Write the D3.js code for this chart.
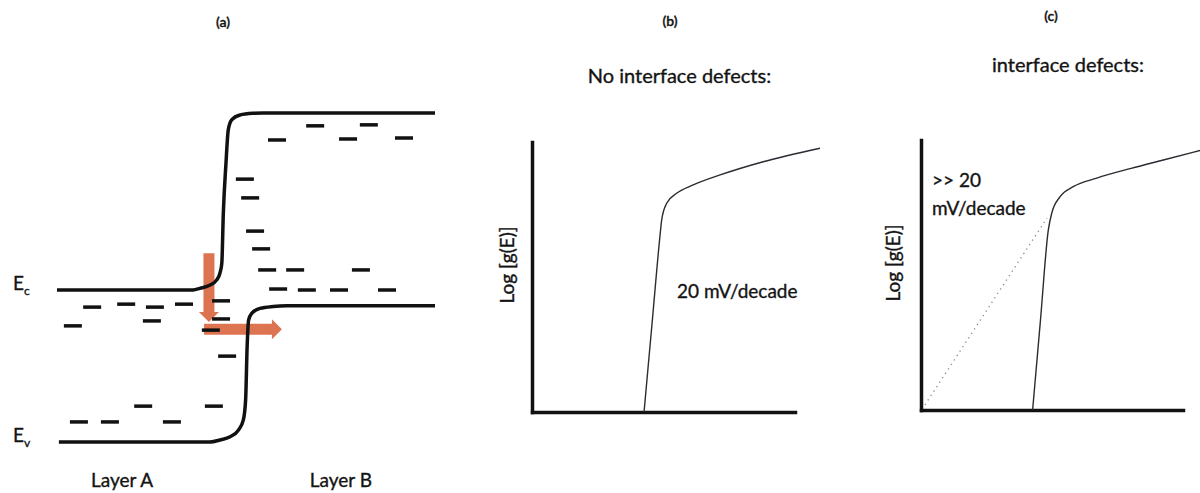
<!DOCTYPE html>
<html>
<head>
<meta charset="utf-8">
<script src="https://cdn.jsdelivr.net/npm/d3@7"></script>
<style>
  body { margin: 0; background: #fff; }
  svg { display: block; }
  text { font-family: Lato, "Open Sans", sans-serif; fill: #141414; stroke: #141414; stroke-width: 0.35px; }
</style>
</head>
<body>
<svg id="chart" width="1200" height="493"></svg>
<script>
// ---- Panel (a): band diagram of the A/B heterojunction ----
// [position (% of drawn width), energy (arb. units)]
const conductionBand = [[0,4.62],[36,4.62],[37.8,4.67],[40.5,4.77],[42.2,4.92],[43.1,5.13],[43.6,5.43],
  [44.0,6.95],[44.7,8.47],[45.3,9.48],[46.2,9.79],[48.4,9.94],[51.9,9.99],[54.6,10],[100,10]];
const valenceBand = [[0.5,0],[40.5,0],[43.1,0.06],[45.8,0.16],[48.0,0.36],[49.3,0.67],[49.9,1.28],
  [50.3,2.90],[50.7,3.71],[51.5,3.91],[53.7,4.06],[57.2,4.12],[60.8,4.14],[100,4.14]];
// localized (tail / defect) states
const defectStates = [
  [68.3,9.61],[82.5,9.64],[58.2,9.18],[77.0,9.21],[91.8,9.24],
  [49.7,7.99],[51.1,7.42],[52.4,6.41],[54.0,5.87],
  [55.6,5.23],[63.0,5.23],[80.4,5.23],
  [58.5,4.65],[66.1,4.62],[74.6,4.62],[87.3,4.62],
  [9.3,4.10],[18.3,4.19],[25.9,4.10],[33.6,4.19],[43.4,4.29],
  [4.2,3.53],[25.1,3.68],[43.4,3.74],[40.7,3.40],[45.0,2.61],
  [22.8,1.09],[41.5,1.09],[5.8,0.61],[14.0,0.61],[30.4,0.61]
];
// carrier path: drop into interface state, then hop across
const hopArrows = [
  { from: [40.2,5.74], to: [40.2,3.65] },
  { from: [38.9,3.43], to: [59.5,3.43] }
];
const bandLabels = [["E","c",4.62],["E","v",0]];
const layerLabels = [["Layer A",17.2],["Layer B",75.1]];

// ---- Panels (b) and (c): log density of states vs energy ----
const dosNoDefects = [[42.6,0],[45.65,32.8],[48.7,65.6],[49.3,71.1],[51.2,77.3],[55.0,81.0],
  [61.3,84.1],[71.5,87.8],[87.9,92.7],[109.5,97.7]];
const dosDefects = [[42.6,0],[45.6,33.3],[48.6,66.7],[49.9,72.9],[53.1,79.0],[58.1,82.7],
  [67.1,85.9],[80.2,89.5],[92.5,92.6],[106.5,96.1]];
const defectSlope = [[1.5,1.9],[48.1,71.1]];
const panelTags = ["(a)","(b)","(c)"];
const panelTitles = ["No interface defects:","interface defects:"];

const svg = d3.select("#chart");
svg.append("rect").attr("width",1200).attr("height",493).attr("fill","#fff");

// ---------- panel (a) ----------
const xA = d3.scaleLinear().domain([0,100]).range([57,435]);
const eA = d3.scaleLinear().domain([0,10]).range([442,113]);
const gA = svg.append("g");

// arrows (drawn under the bands)
const shaftHalf = 5.5, headHalf = 10, headLen = 10;
function arrowPath(a) {
  const x0 = xA(a.from[0]), y0 = eA(a.from[1]), x1 = xA(a.to[0]), y1 = eA(a.to[1]);
  const len = Math.hypot(x1-x0, y1-y0), ux = (x1-x0)/len, uy = (y1-y0)/len;
  const nx = -uy, ny = ux;
  const bx = x1 - ux*headLen, by = y1 - uy*headLen;
  const p = [
    [x0+nx*shaftHalf, y0+ny*shaftHalf], [bx+nx*shaftHalf, by+ny*shaftHalf],
    [bx+nx*headHalf, by+ny*headHalf], [x1, y1],
    [bx-nx*headHalf, by-ny*headHalf], [bx-nx*shaftHalf, by-ny*shaftHalf],
    [x0-nx*shaftHalf, y0-ny*shaftHalf]
  ];
  return "M" + p.map(q => q.join(",")).join("L") + "Z";
}
gA.selectAll("path.arrow").data(hopArrows).join("path")
  .attr("class","arrow").attr("d", arrowPath)
  .attr("fill","#d8653f").attr("opacity",0.9);

const bandLine = d3.line().x(d => xA(d[0])).y(d => eA(d[1])).curve(d3.curveMonotoneX);
gA.selectAll("path.band").data([conductionBand, valenceBand]).join("path")
  .attr("class","band").attr("d", bandLine)
  .attr("fill","none").attr("stroke","#111").attr("stroke-width",3.5);

const dashLen = 18;
gA.selectAll("line.state").data(defectStates).join("line")
  .attr("class","state")
  .attr("x1", d => xA(d[0]) - dashLen/2).attr("x2", d => xA(d[0]) + dashLen/2)
  .attr("y1", d => eA(d[1])).attr("y2", d => eA(d[1]))
  .attr("stroke","#111").attr("stroke-width",3.5);

bandLabels.forEach(([main, sub, e]) => {
  const t = gA.append("text").attr("x",13).attr("y",eA(e)).attr("font-size",19);
  t.append("tspan").text(main);
  t.append("tspan").attr("dy",5).attr("font-size",12).text(sub);
});
gA.selectAll("text.layer").data(layerLabels).join("text")
  .attr("class","layer").attr("x", d => xA(d[1])).attr("y",487)
  .attr("text-anchor","middle").attr("font-size",19).text(d => d[0]);

// ---------- panels (b) and (c) ----------
const panels = [
  { x0:532, x1:795, yTop:142, yBot:412, data: dosNoDefects, title: panelTitles[0], titleY:83, labelX:507 },
  { x0:921, x1:1183, yTop:140, yBot:410, data: dosDefects, title: panelTitles[1], titleY:72, labelX:893 }
];
panels.forEach((p, i) => {
  const x = d3.scaleLinear().domain([0,100]).range([p.x0, p.x1]);
  const y = d3.scaleLinear().domain([0,100]).range([p.yBot, p.yTop]);
  const g = svg.append("g");

  g.append("g").attr("transform",`translate(0,${p.yBot})`)
    .call(d3.axisBottom(x).tickValues([]).tickSizeOuter(0));
  g.append("g").attr("transform",`translate(${p.x0},0)`)
    .call(d3.axisLeft(y).tickValues([]).tickSizeOuter(0));
  g.selectAll(".domain").attr("stroke","#111").attr("stroke-width",3.5).attr("stroke-linecap","square");

  if (i === 1) {
    g.append("path").datum(defectSlope)
      .attr("d", d3.line().x(d => x(d[0])).y(d => y(d[1])))
      .attr("fill","none").attr("stroke","#8a8a8a").attr("stroke-width",1.3)
      .attr("stroke-dasharray","1.3,4");
  }
  g.append("path").datum(p.data)
    .attr("d", d3.line().x(d => x(d[0])).y(d => y(d[1])).curve(d3.curveMonotoneX))
    .attr("fill","none").attr("stroke","#2b2b33").attr("stroke-width",1.4);

  g.append("text").attr("x",(p.x0+p.x1)/2 + 16).attr("y",p.titleY)
    .attr("text-anchor","middle").attr("font-size",20).text(p.title);
  g.append("text").attr("transform",`translate(${p.labelX},${(p.yTop+p.yBot)/2 - 12}) rotate(-90)`)
    .attr("text-anchor","middle").attr("dy","0.35em").attr("font-size",19).text("Log [g(E)]");
});

// slope annotations
svg.append("text").attr("x",677).attr("y",298).attr("font-size",19).text("20 mV/decade");
const ann = svg.append("text").attr("x",932).attr("y",187).attr("font-size",19);
ann.append("tspan").text(">> 20");
ann.append("tspan").attr("x",932).attr("dy",28).text("mV/decade");

// panel tags
svg.selectAll("text.tag").data(panelTags).join("text")
  .attr("class","tag")
  .attr("x", (d,i) => [223,670,1051][i]).attr("y", (d,i) => [27,26,21][i])
  .attr("text-anchor","middle").attr("font-size",14).attr("font-weight",600).text(d => d);
</script>
</body>
</html>
